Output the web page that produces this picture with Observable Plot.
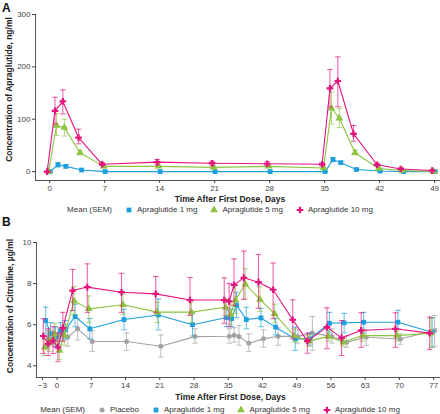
<!DOCTYPE html>
<html><head><meta charset="utf-8">
<script src="https://cdn.jsdelivr.net/npm/d3@7"></script>
<script src="https://cdn.jsdelivr.net/npm/@observablehq/plot@0.6"></script>
<style>
body{margin:0;background:#fff;font-family:"Liberation Sans",Arial,sans-serif;}
#wrap{position:relative;width:440px;height:414px;overflow:hidden;}
.panel{position:absolute;left:0;}
.lbl{position:absolute;left:2px;font-weight:bold;font-size:12px;color:#111;line-height:12px;}
.legend{position:absolute;left:0;width:440px;font-size:8px;color:#333;display:flex;justify-content:center;align-items:center;gap:13px;line-height:10px;white-space:nowrap;}
.legend span{display:inline-flex;align-items:center;gap:4px;}
</style></head>
<body><div id="wrap">
<div id="pa" class="panel" style="top:0"></div>
<div id="lega" class="legend" style="top:205px"></div>
<div id="pb" class="panel" style="top:214px"></div>
<div id="legb" class="legend" style="top:405px"></div>
<div class="lbl" style="top:2px">A</div>
<div class="lbl" style="top:216px">B</div>
</div>
<script>
// ---------- Panel A: Apraglutide concentration (ng/ml) ----------
const daysA = [0,1,2,4,7,14,21,28,35,36,37,39,42,45,49];
const a1mg   = [0,13,10,3,0,0,0,0,0,23,17,4,1,0,0];
const a1mgLo = [0,9,7,2,0,0,0,0,0,19,15,3,0,0,0];
const a1mgHi = [0,17,13,4,1,1,1,1,1,27,20,5,2,1,1];
const a5mg   = [0,88,84,36,10,10,8,10,7,121,102,36,6,2,0];
const a5mgLo = [0,69,68,32,8,8,6,8,5,91,84,32,5,1,0];
const a5mgHi = [0,111,100,40,13,12,10,12,9,152,121,41,8,3,1];
const a10mg   = [0,116,134,65,14,18,16,15,14,159,173,72,13,5,2];
const a10mgLo = [0,91,110,53,12,13,12,11,11,123,124,58,11,4,1];
const a10mgHi = [0,142,156,81,17,23,20,19,17,195,219,88,16,7,3];
const ticksAx = [0,7,14,21,28,35,42,49];
const ticksAy = [0,100,200,300];

// ---------- Panel B: Citrulline concentration (µg/ml) ----------
const daysB = [-2,-1,0,1,2,4,7,14,21,28,35,36,37,39,42,45,49,52,56,59,63,70,77];
const bPlacebo   = [5.35,5.3,5.45,5.55,5.4,5.8,5.18,5.18,4.95,5.42,5.44,5.49,5.43,5.1,5.31,5.44,5.43,5.59,5.43,5.15,5.39,5.3,5.72];
const bPlaceboLo = [5.0,4.95,5.05,5.2,4.95,5.25,4.7,4.75,4.42,5.1,5.1,5.15,5.0,4.7,4.9,5.0,5.1,4.75,5.1,4.9,5.0,5.05,4.95];
const bPlaceboHi = [5.7,5.65,5.85,5.9,5.85,6.3,5.7,5.6,5.5,5.8,5.8,5.85,5.95,5.55,5.75,5.85,5.75,6.4,5.8,5.45,5.75,5.55,6.45];
const b1mg   = [6.2,5.55,5.4,5.7,5.75,6.4,5.8,6.25,6.47,6.0,6.35,6.3,6.95,6.25,6.33,5.88,5.31,5.31,6.07,6.09,6.12,6.12,5.63];
const b1mgLo = [5.55,5.1,4.95,5.3,5.3,5.9,5.3,5.75,5.75,5.45,5.9,5.9,6.34,5.8,5.9,5.5,4.75,5.0,5.6,5.6,5.6,5.8,4.9];
const b1mgHi = [6.85,6.1,5.9,6.1,6.2,7.0,6.3,6.75,7.25,6.6,6.8,6.75,7.58,6.85,6.8,6.3,5.88,5.6,6.6,6.55,6.6,6.7,6.35];
const b5mg   = [4.9,5.2,5.55,4.75,5.5,7.15,6.77,6.97,6.61,6.61,6.85,6.5,7.2,7.97,7.23,6.53,5.45,5.2,5.43,5.15,5.47,5.47,5.59];
const b5mgLo = [4.5,4.7,5.05,4.3,5.0,6.5,6.1,6.5,6.1,6.1,6.45,6.0,6.55,7.26,6.65,6.1,5.15,4.95,5.2,4.95,5.2,5.2,4.9];
const b5mgHi = [5.3,5.7,6.05,5.2,6.0,7.85,7.4,7.5,7.1,7.1,7.25,7.0,7.9,8.72,7.85,7.0,5.8,5.5,5.7,5.35,5.7,5.7,6.3];
const b10mg   = [5.45,5.07,5.23,4.9,5.83,7.66,7.83,7.58,7.5,7.2,7.2,7.13,7.94,8.28,8.07,7.7,6.24,5.2,5.88,5.36,5.72,5.8,5.59];
const b10mgLo = [4.6,4.5,4.6,4.2,5.2,6.69,6.6,6.6,6.6,6.45,6.07,5.9,6.93,7.23,6.8,6.29,5.31,4.61,4.83,4.5,4.9,4.9,4.79];
const b10mgHi = [6.29,5.8,5.9,5.6,6.6,8.69,8.96,8.5,8.35,8.3,8.28,8.0,9.2,9.58,9.42,9.0,7.21,5.59,6.82,6.2,6.58,6.58,6.37];
const ticksBx = [-3,0,7,14,21,28,35,42,49,56,63,70,77];
const ticksBy = [4,6,8,10];

const seriesNames = ["Placebo","Apraglutide 1 mg","Apraglutide 5 mg","Apraglutide 10 mg"];

// ---------- styles ----------
const styles = {
  "Placebo":           {color:"#a3a3a3", symbol:"circle",   r:2.5, dxA:0,    dxB:1},
  "Apraglutide 1 mg":  {color:"#1d9fdc", symbol:"square",   r:2.7, dxA:0.5,  dxB:-1.5},
  "Apraglutide 5 mg":  {color:"#8cc43f", symbol:"triangle", r:2.9, dxA:-1,   dxB:-2.5},
  "Apraglutide 10 mg": {color:"#e5137e", symbol:"cross",    r:2.8, dxA:-2.5, dxB:-4}
};
const cap = {draw(ctx, size){ const w = Math.sqrt(size/Math.PI); ctx.moveTo(-w,0); ctx.lineTo(w,0); }};
const fmt = d => d < 0 ? "\u2212" + (-d) : String(d);

function rows(days, v, lo, hi){ return days.map((d,i)=>({day:d, v:v[i], lo:lo[i], hi:hi[i]})); }

function seriesMarks(data, st, dx){
  return [
    Plot.ruleX(data, {x:"day", y1:"lo", y2:"hi", stroke:st.color, strokeOpacity:0.7, strokeWidth:1, dx}),
    Plot.dot(data, {x:"day", y:"lo", symbol:cap, r:2.8, stroke:st.color, strokeOpacity:0.7, strokeWidth:1, fill:"none", dx}),
    Plot.dot(data, {x:"day", y:"hi", symbol:cap, r:2.8, stroke:st.color, strokeOpacity:0.7, strokeWidth:1, fill:"none", dx}),
    Plot.line(data, {x:"day", y:"v", stroke:st.color, strokeWidth:1.1, dx}),
    Plot.dot(data, {x:"day", y:"v", symbol:st.symbol, r:st.r, fill:st.color, stroke:"none", dx})
  ];
}

function frameMarks(xt, yt, ylabel, xtitleDy, ylabelDy){
  return [
    Plot.frame({anchor:"left", stroke:"#555"}),
    Plot.frame({anchor:"bottom", stroke:"#555"}),
    Plot.axisX({ticks:xt, tickSize:3, tickPadding:2, tickFormat:fmt, label:null, color:"#444", fontSize:8}),
    Plot.axisY({ticks:yt, tickSize:3, tickPadding:2, tickFormat:fmt, label:null, color:"#444", fontSize:8}),
    Plot.text(["Time After First Dose, Days"], {frameAnchor:"bottom", dy:xtitleDy, dx:-8, textAnchor:"middle", lineAnchor:"middle", fontWeight:"bold", fontSize:8.5, fill:"#222"}),
    Plot.text([ylabel], {frameAnchor:"left", rotate:-90, dx:-26, dy:ylabelDy, textAnchor:"middle", lineAnchor:"middle", fontWeight:"bold", fontSize:8.5, fill:"#222"})
  ];
}

const seriesA = [
  ["Apraglutide 1 mg", rows(daysA, a1mg, a1mgLo, a1mgHi)],
  ["Apraglutide 5 mg", rows(daysA, a5mg, a5mgLo, a5mgHi)],
  ["Apraglutide 10 mg", rows(daysA, a10mg, a10mgLo, a10mgHi)]
];
const seriesB = [
  ["Placebo", rows(daysB, bPlacebo, bPlaceboLo, bPlaceboHi)],
  ["Apraglutide 1 mg", rows(daysB, b1mg, b1mgLo, b1mgHi)],
  ["Apraglutide 5 mg", rows(daysB, b5mg, b5mgLo, b5mgHi)],
  ["Apraglutide 10 mg", rows(daysB, b10mg, b10mgLo, b10mgHi)]
];

const common = {width:440, marginLeft:35, marginRight:0,
  style:{fontFamily:'"Liberation Sans", Arial, sans-serif', fontSize:"8px", color:"#444", background:"transparent", overflow:"visible"}};

const chartA = Plot.plot({...common, height:205, marginTop:14, marginBottom:25,
  x:{domain:[-1.8,49.75]}, y:{domain:[-17,300]},
  marks:[
    ...frameMarks(ticksAx, ticksAy, "Concentration of Apraglutide, ng/ml", 19, -8),
    ...seriesA.flatMap(([n,d]) => seriesMarks(d, styles[n], styles[n].dxA))
  ]});
document.getElementById("pa").appendChild(chartA);

const chartB = Plot.plot({...common, height:190, marginTop:28, marginBottom:27, marginLeft:36,
  x:{domain:[-4.2,78.4]}, y:{domain:[3.43,10]},
  marks:[
    ...frameMarks(ticksBx, ticksBy, "Concentration of Citrulline, \u00b5g/ml", 20, -4),
    ...seriesB.flatMap(([n,d]) => seriesMarks(d, styles[n], styles[n].dxB))
  ]});
document.getElementById("pb").appendChild(chartB);

// ---------- legends ----------
function symbolSvg(st){
  const s = d3.symbol(d3["symbol" + st.symbol[0].toUpperCase() + st.symbol.slice(1)], st.r*st.r*Math.PI)();
  return `<svg width="8" height="8" viewBox="-4 -4 8 8"><path d="${s}" fill="${st.color}"/></svg>`;
}
function legend(id, names){
  const el = document.getElementById(id);
  let html = `<span>Mean (SEM)</span>`;
  for (const n of names) html += `<span>${symbolSvg(styles[n])}${n}</span>`;
  el.innerHTML = html;
}
legend("lega", seriesNames.slice(1));
legend("legb", seriesNames);
</script>
</body></html>
